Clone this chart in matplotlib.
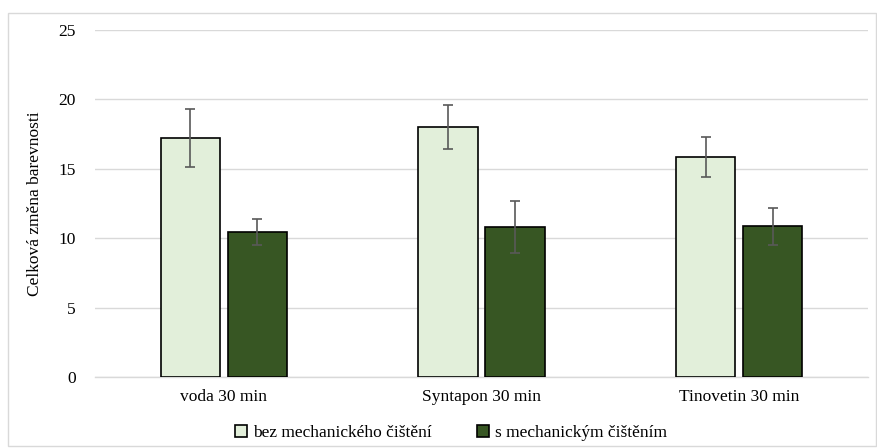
import matplotlib
matplotlib.use("Agg")
import matplotlib.pyplot as plt
import numpy as np
from matplotlib.patches import Rectangle

categories = ["voda 30 min", "Syntapon 30 min", "Tinovetin 30 min"]
series_names = ["bez mechanického čištění", "s mechanickým čištěním"]
bez_values = [17.2, 18.0, 15.85]
bez_err = [2.1, 1.57, 1.44]
s_values = [10.42, 10.8, 10.86]
s_err = [0.94, 1.86, 1.33]
colors = ["#e2efda", "#375623"]

plt.rcParams['font.family'] = ['Liberation Serif', 'DejaVu Serif']

fig = plt.figure(figsize=(8.77, 4.48), dpi=100)
ax = fig.add_axes([0.1083, 0.1585, 0.8814, 0.7745])

x = np.arange(len(categories))
w = 0.231
off = 0.13
ax.bar(x - off, bez_values, w, color=colors[0], edgecolor="black", linewidth=1.2,
       yerr=bez_err, error_kw=dict(ecolor="#595959", elinewidth=1.2, capsize=3.5, capthick=1.2),
       label=series_names[0], zorder=3)
ax.bar(x + off, s_values, w, color=colors[1], edgecolor="black", linewidth=1.2,
       yerr=s_err, error_kw=dict(ecolor="#595959", elinewidth=1.2, capsize=3.5, capthick=1.2),
       label=series_names[1], zorder=3)

ax.set_xlim(-0.5, 2.5)
ax.set_ylim(0, 25)
ax.set_yticks([0, 5, 10, 15, 20, 25])
ax.yaxis.grid(True, color="#d9d9d9", linewidth=1, zorder=0)
ax.set_axisbelow(True)
for s in ["top", "right", "left"]:
    ax.spines[s].set_visible(False)
ax.spines["bottom"].set_color("#d9d9d9")
ax.spines["bottom"].set_linewidth(1)
ax.tick_params(axis="both", length=0, labelsize=12.5, colors="black")
ax.tick_params(axis="y", pad=14)
ax.tick_params(axis="x", pad=9)
ax.set_xticks(x)
ax.set_xticklabels(categories)
ax.set_ylabel("Celková změna barevnosti", fontsize=12.5, labelpad=11)

leg = fig.legend(loc="center", bbox_to_anchor=(0.514, 0.034), ncol=2, frameon=False,
                 fontsize=12.5, handlelength=0.7, handleheight=0.7, handletextpad=0.35,
                 columnspacing=2.6)

fig.patches.append(Rectangle((0.009, 0.004), 0.99, 0.968, transform=fig.transFigure,
                             fill=False, edgecolor="#d9d9d9", linewidth=1))

fig.savefig("out.png", dpi=100)
